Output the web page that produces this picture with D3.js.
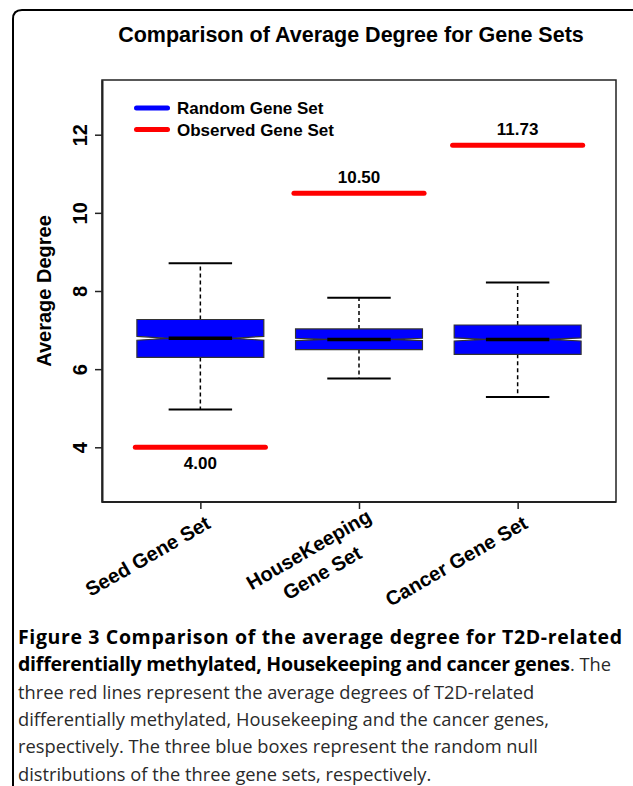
<!DOCTYPE html>
<html>
<head>
<meta charset="utf-8">
<script src="https://cdn.jsdelivr.net/npm/d3@7"></script>
<style>
  body { margin: 0; background: #fff; }
  svg { display: block; }
  .chart text { font-family: "Liberation Sans", Arial, sans-serif; font-weight: bold; fill: #000; }
  .caption text { font-family: "Open Sans", sans-serif; }
</style>
</head>
<body>
<svg width="633" height="786"></svg>
<script>
// values
let groups = ["Seed Gene Set", "HouseKeeping\nGene Set", "Cancer Gene Set"];
let whiskerLow  = [4.97, 5.76, 5.29];
let q1          = [6.30, 6.50, 6.38];
let median      = [6.79, 6.76, 6.76];
let q3          = [7.27, 7.03, 7.13];
let whiskerHigh = [8.71, 7.83, 8.22];
let notchHalf   = [0.05, 0.03, 0.04];
let observed    = [4.00, 10.50, 11.73];
let yTicks      = [4, 6, 8, 10, 12];
let legendItems = ["Random Gene Set", "Observed Gene Set"];
let legendColors = ["#0000ff", "#ff0000"];

// caption lines: [bold part, regular part]
let captionBold = [
  "Figure 3 Comparison of the average degree for T2D-related",
  "differentially methylated, Housekeeping and cancer genes"
];
let captionRegular = [
  "",
  ". The",
  "three red lines represent the average degrees of T2D-related",
  "differentially methylated, Housekeeping and the cancer genes,",
  "respectively. The three blue boxes represent the random null",
  "distributions of the three gene sets, respectively."
];
// widths the bold runs take in the figure's typeface
let captionBoldWidth = [604, 552];

let svg = d3.select("svg");

// outer frame, rounded top-left corner
svg.append("path")
    .attr("d", "M13,800 L13,19 Q13,10 22,10 L640,10")
    .attr("fill", "none")
    .attr("stroke", "#000")
    .attr("stroke-width", 2);

let plot = { left: 102, right: 616, top: 80, bottom: 502 };

let x = d3.scalePoint()
    .domain(d3.range(groups.length))
    .range([plot.left, plot.right])
    .padding(0.62);

let y = d3.scaleLinear()
    .domain([2.6, 13.4])
    .range([plot.bottom, plot.top]);

let step = x.step();
let halfW = step * 0.4;

let g = svg.append("g").attr("class", "chart");

// title
g.append("text")
    .attr("x", 351)
    .attr("y", 42)
    .attr("text-anchor", "middle")
    .style("font-size", "21.5px")
    .text("Comparison of Average Degree for Gene Sets");

// plot frame
g.append("rect")
    .attr("x", plot.left)
    .attr("y", plot.top)
    .attr("width", plot.right - plot.left)
    .attr("height", plot.bottom - plot.top)
    .attr("fill", "none")
    .attr("stroke", "#222")
    .attr("stroke-width", 1.5);

// y axis
let yAxis = g.append("g")
    .attr("transform", "translate(" + plot.left + ",0)")
    .call(d3.axisLeft(y).tickValues(yTicks).tickSize(7).tickSizeOuter(0));
yAxis.select(".domain").attr("stroke", "#222").attr("stroke-width", 2);
yAxis.selectAll(".tick line").attr("stroke", "#222").attr("stroke-width", 1.5);
yAxis.selectAll(".tick text")
    .attr("transform", "rotate(-90)")
    .attr("x", 0)
    .attr("y", -15)
    .attr("dy", 0)
    .attr("text-anchor", "middle")
    .style("font-size", "20px")
    .style("font-family", "Liberation Sans, Arial, sans-serif")
    .style("font-weight", "bold");

g.append("text")
    .attr("transform", "translate(51," + ((plot.top + plot.bottom) / 2) + ") rotate(-90)")
    .attr("text-anchor", "middle")
    .style("font-size", "20px")
    .text("Average Degree");

// x axis
let xAxis = g.append("g")
    .attr("transform", "translate(0," + plot.bottom + ")")
    .call(d3.axisBottom(x).tickSize(7).tickSizeOuter(0).tickFormat(""));
xAxis.select(".domain").attr("stroke", "#222").attr("stroke-width", 2)
    .attr("d", "M" + plot.left + ",0H" + plot.right);
xAxis.selectAll(".tick line").attr("stroke", "#222").attr("stroke-width", 1.5);

// rotated category labels (multi-line ones are centred line by line)
groups.forEach(function(name, i) {
  let lines = name.split("\n");
  let two = lines.length > 1;
  let lab = g.append("g")
      .attr("transform", "translate(" + (x(i) + (two ? 17 : 8)) + "," + (two ? 526 : 521) + ") rotate(-30)");
  let t = lab.selectAll("text")
      .data(lines)
      .enter().append("text")
      .style("font-size", "20px")
      .attr("text-anchor", "middle")
      .attr("y", function(d, k) { return (k - (lines.length - 1) / 2) * 27; })
      .attr("dy", "0.35em")
      .text(function(d) { return d; });
  let maxW = d3.max(t.nodes(), function(n) { return n.getComputedTextLength(); });
  t.attr("x", -maxW / 2);
});

// boxes
let boxes = g.selectAll(".box")
    .data(groups)
    .enter().append("g")
    .attr("class", "box");

// whiskers
boxes.append("line")
    .attr("x1", function(d, i) { return x(i); })
    .attr("x2", function(d, i) { return x(i); })
    .attr("y1", function(d, i) { return y(q3[i]); })
    .attr("y2", function(d, i) { return y(whiskerHigh[i]); })
    .attr("stroke", "#000").attr("stroke-width", 1.5).attr("stroke-dasharray", "4,3");
boxes.append("line")
    .attr("x1", function(d, i) { return x(i); })
    .attr("x2", function(d, i) { return x(i); })
    .attr("y1", function(d, i) { return y(q1[i]); })
    .attr("y2", function(d, i) { return y(whiskerLow[i]); })
    .attr("stroke", "#000").attr("stroke-width", 1.5).attr("stroke-dasharray", "4,3");

// staples
[whiskerHigh, whiskerLow].forEach(function(arr) {
  boxes.append("line")
      .attr("x1", function(d, i) { return x(i) - halfW / 2; })
      .attr("x2", function(d, i) { return x(i) + halfW / 2; })
      .attr("y1", function(d, i) { return y(arr[i]); })
      .attr("y2", function(d, i) { return y(arr[i]); })
      .attr("stroke", "#000").attr("stroke-width", 2);
});

// notched box
boxes.append("path")
    .attr("d", function(d, i) {
      let c = x(i), lo = median[i] - notchHalf[i], hi = median[i] + notchHalf[i];
      let pts = [
        [c - halfW, y(q1[i])], [c + halfW, y(q1[i])], [c + halfW, y(lo)],
        [c + halfW / 2, y(median[i])], [c + halfW, y(hi)], [c + halfW, y(q3[i])],
        [c - halfW, y(q3[i])], [c - halfW, y(hi)], [c - halfW / 2, y(median[i])],
        [c - halfW, y(lo)]
      ];
      return "M" + pts.join("L") + "Z";
    })
    .attr("fill", "#0000ff")
    .attr("stroke", "#333")
    .attr("stroke-width", 1.2);

// median
boxes.append("line")
    .attr("x1", function(d, i) { return x(i) - halfW / 2; })
    .attr("x2", function(d, i) { return x(i) + halfW / 2; })
    .attr("y1", function(d, i) { return y(median[i]); })
    .attr("y2", function(d, i) { return y(median[i]); })
    .attr("stroke", "#000").attr("stroke-width", 3.5);

// observed values
boxes.append("line")
    .attr("x1", function(d, i) { return x(i) - step * 0.41; })
    .attr("x2", function(d, i) { return x(i) + step * 0.41; })
    .attr("y1", function(d, i) { return y(observed[i]); })
    .attr("y2", function(d, i) { return y(observed[i]); })
    .attr("stroke", "#ff0000").attr("stroke-width", 5).attr("stroke-linecap", "round");

boxes.append("text")
    .attr("x", function(d, i) { return x(i); })
    .attr("y", function(d, i) { return observed[i] < median[i] ? y(observed[i]) + 22 : y(observed[i]) - 10; })
    .attr("text-anchor", "middle")
    .style("font-size", "17px")
    .text(function(d, i) { return observed[i].toFixed(2); });

// legend
let legend = g.selectAll(".legend")
    .data(legendItems)
    .enter().append("g")
    .attr("class", "legend")
    .attr("transform", function(d, i) { return "translate(0," + (108 + i * 21.5) + ")"; });

legend.append("line")
    .attr("x1", 136.5).attr("x2", 167.5)
    .attr("stroke", function(d, i) { return legendColors[i]; })
    .attr("stroke-width", 5).attr("stroke-linecap", "round");

legend.append("text")
    .attr("x", 177)
    .attr("dy", "0.36em")
    .style("font-size", "17px")
    .text(function(d) { return d; });

// caption
let cap = svg.append("g").attr("class", "caption");
captionRegular.forEach(function(reg, i) {
  let yy = 644 + i * 27.3;
  let xx = 18;
  if (captionBold[i]) {
    cap.append("text")
        .attr("x", xx)
        .attr("y", yy)
        .attr("textLength", captionBoldWidth[i])
        .attr("lengthAdjust", "spacing")
        .style("font-size", "19.5px")
        .style("font-weight", "bold")
        .style("fill", "#000")
        .text(captionBold[i]);
    xx += captionBoldWidth[i];
  }
  if (reg) {
    cap.append("text")
        .attr("x", xx)
        .attr("y", yy)
        .style("font-size", "18.3px")
        .style("fill", "#2a2a2a")
        .text(reg);
  }
});
</script>
</body>
</html>
